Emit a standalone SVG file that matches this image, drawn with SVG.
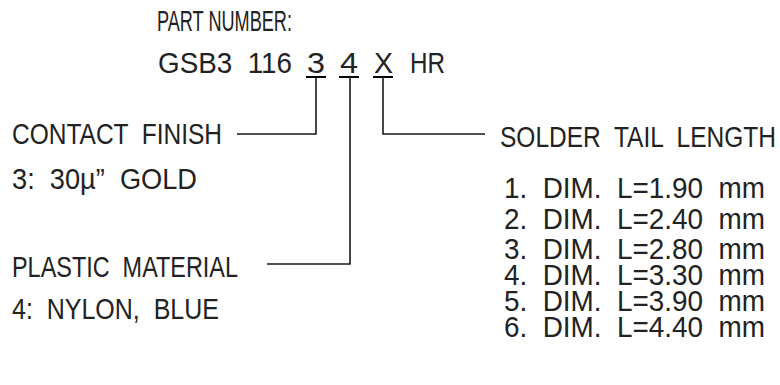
<svg xmlns="http://www.w3.org/2000/svg" width="780" height="385" viewBox="0 0 780 385" xml:space="preserve">
<style>
text { font-family: "Liberation Sans", Arial, sans-serif; font-size: 30px; fill: #222; white-space: pre; }
.ul { stroke: #000; stroke-width: 2.2; fill: none; }
.ln { stroke: #1a1a1a; stroke-width: 1.6; fill: none; }
</style>
<rect width="780" height="385" fill="#fff"/>
<g id="part-number">
<text x="157" y="31" textLength="135" lengthAdjust="spacingAndGlyphs">PART NUMBER:</text>
<text x="158" y="73" textLength="134" lengthAdjust="spacingAndGlyphs">GSB3  116</text>
<text x="307" y="73" textLength="18" lengthAdjust="spacingAndGlyphs">3</text>
<text x="340" y="73" textLength="18" lengthAdjust="spacingAndGlyphs">4</text>
<text x="374" y="73" textLength="19" lengthAdjust="spacingAndGlyphs">X</text>
<text x="410" y="73" textLength="35" lengthAdjust="spacingAndGlyphs">HR</text>
<path class="ul" d="M306 77H326M339 77H359M373 77H393"/>
</g>
<g id="contact-finish">
<text x="12" y="144" textLength="210" lengthAdjust="spacingAndGlyphs">CONTACT  FINISH</text>
<text x="12" y="189" textLength="185" lengthAdjust="spacingAndGlyphs">3:  30µ”  GOLD</text>
</g>
<g id="plastic-material">
<text x="12" y="277" textLength="226" lengthAdjust="spacingAndGlyphs">PLASTIC  MATERIAL</text>
<text x="12" y="319" textLength="207" lengthAdjust="spacingAndGlyphs">4:  NYLON,  BLUE</text>
</g>
<g id="solder-tail-length">
<text x="500" y="147" textLength="276" lengthAdjust="spacingAndGlyphs">SOLDER  TAIL  LENGTH</text>
<text x="504" y="198" textLength="261" lengthAdjust="spacingAndGlyphs">1.  DIM.  L=1.90  mm</text>
<text x="504" y="229" textLength="261" lengthAdjust="spacingAndGlyphs">2.  DIM.  L=2.40  mm</text>
<text x="504" y="259" textLength="261" lengthAdjust="spacingAndGlyphs">3.  DIM.  L=2.80  mm</text>
<text x="504" y="285" textLength="261" lengthAdjust="spacingAndGlyphs">4.  DIM.  L=3.30  mm</text>
<text x="504" y="311" textLength="261" lengthAdjust="spacingAndGlyphs">5.  DIM.  L=3.90  mm</text>
<text x="504" y="337" textLength="261" lengthAdjust="spacingAndGlyphs">6.  DIM.  L=4.40  mm</text>
</g>
<g id="connectors">
<path class="ln" d="M316 77V134H237"/>
<path class="ln" d="M350 77V264H267"/>
<path class="ln" d="M383 77V134H485"/>
</g>
</svg>
